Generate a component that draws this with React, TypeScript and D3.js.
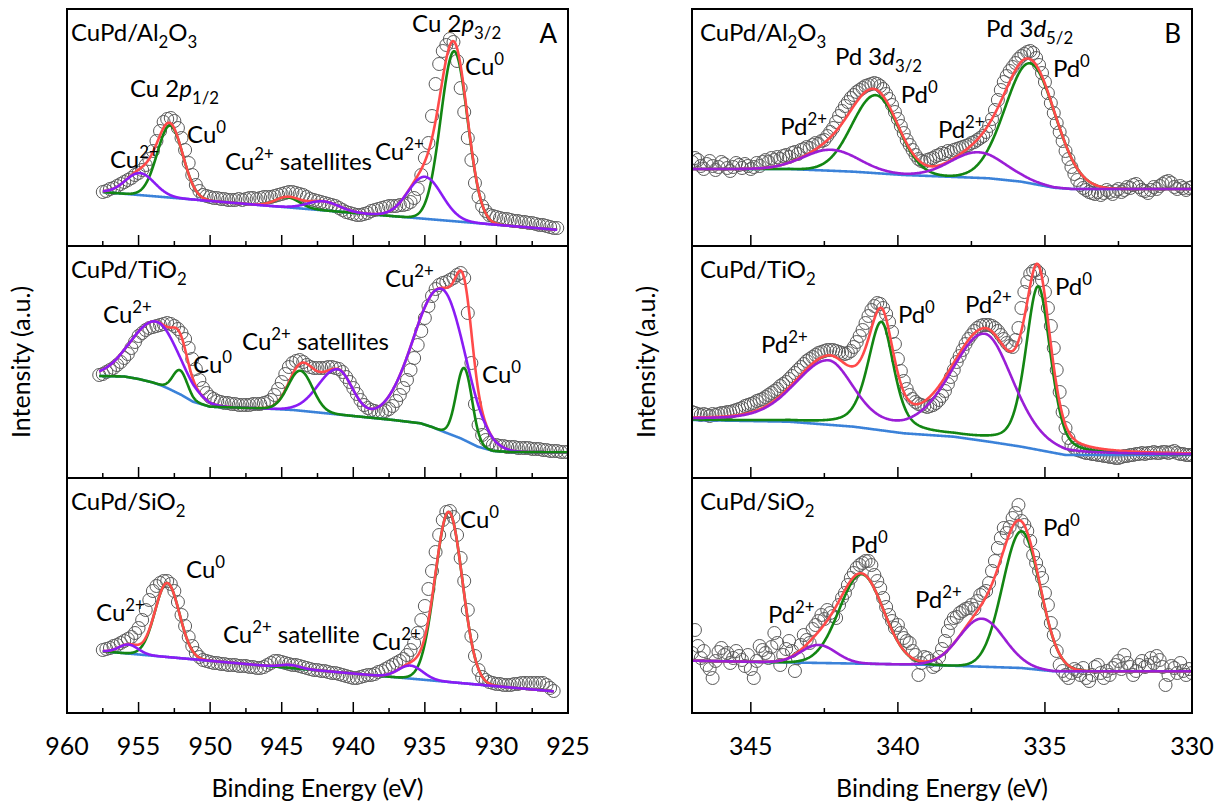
import React, { useEffect, useRef } from 'react';
import * as d3 from 'd3';

const W = 1216;
const H = 803;
const FONT = "Lato, 'Open Sans', sans-serif";

// ---- Cu 2p spectra (left panel), 0.25 eV steps, arbitrary intensity ----
const cuStep = 0.25;
const cuAl2O3Start = 957.5;
const cuAl2O3 = [
  54, 55, 57, 58, 60, 62, 64, 66,
  68, 71, 73, 76, 81, 87, 95, 105,
  115, 124, 127, 128, 125, 118, 108, 96,
  83, 71, 61, 55, 51, 50, 49, 48,
  48, 47, 47, 46, 46, 46, 47, 46,
  47, 48, 48, 47, 48, 49, 49, 49,
  50, 51, 52, 53, 54, 54, 53, 52,
  51, 49, 47, 46, 45, 44, 43, 42,
  41, 40, 38, 36, 34, 33, 32, 31,
  31, 32, 33, 35, 36, 37, 38, 39,
  40, 40, 40, 41, 41, 42, 44, 48,
  57, 71, 88, 103, 130, 162, 182, 195,
  201, 207, 204, 185, 158, 134, 108, 86,
  63, 49, 40, 35, 31, 30, 29, 28,
  27, 27, 26, 25, 25, 24, 24, 23,
  23, 22, 21, 21, 20, 19, 18, 18,
];
const cuTiO2Start = 957.75;
const cuTiO2 = [
  103, 104, 106, 108, 110, 113, 116, 120,
  124, 130, 136, 142, 145, 148, 150, 151,
  152, 153, 154, 155, 154, 152, 149, 145,
  139, 130, 119, 109, 98, 90, 85, 81,
  79, 77, 76, 75, 75, 74, 74, 73,
  73, 73, 73, 74, 74, 74, 75, 76,
  78, 83, 89, 96, 104, 111, 115, 117,
  118, 116, 113, 111, 110, 110, 110, 110,
  111, 111, 110, 109, 106, 101, 96, 90,
  84, 78, 73, 70, 68, 67, 66, 66,
  67, 69, 72, 77, 83, 90, 98, 108,
  120, 133, 147, 160, 172, 182, 189, 193,
  195, 196, 198, 200, 203, 205, 200, 165,
  115, 74, 53, 43, 38, 35, 33, 33,
  32, 32, 31, 31, 31, 30, 30, 30,
  30, 29, 29, 29, 28, 28, 27, 27,
  27, 26, 26, 26,
];
const cuSiO2Start = 957.5;
const cuSiO2 = [
  63, 64, 65, 67, 68, 70, 72, 74,
  76, 80, 85, 93, 103, 113, 122, 127,
  130, 132, 132, 129, 122, 111, 98, 87,
  76, 67, 60, 56, 53, 52, 51, 50,
  50, 49, 49, 48, 48, 48, 47, 47,
  47, 46, 46, 45, 45, 46, 48, 50,
  52, 52, 51, 50, 49, 48, 48, 47,
  46, 45, 44, 43, 43, 42, 42, 41,
  40, 40, 39, 38, 37, 36, 35, 35,
  36, 37, 38, 38, 39, 41, 42, 44,
  46, 48, 50, 52, 54, 58, 63, 70,
  80, 93, 107, 124, 142, 161, 178, 193,
  201, 202, 196, 178, 155, 132, 103, 77,
  57, 43, 36, 33, 31, 30, 29, 29,
  28, 28, 28, 29, 29, 30, 30, 30,
  30, 30, 30, 30, 28, 25, 22,
];

// ---- Pd 3d spectra (right panel), 0.1 eV steps from 347 eV ----
const pdStep = 0.1;
const pdStart = 347.0;
const pdAl2O3 = [
  84, 88, 86, 80, 77, 82, 85, 80, 76, 79,
  84, 82, 78, 75, 79, 83, 81, 78, 82, 80,
  77, 79, 83, 80, 84, 86, 84, 88, 86, 89,
  87, 90, 91, 89, 93, 94, 92, 96, 97, 99,
  98, 101, 103, 102, 105, 106, 110, 114, 118, 124,
  130, 135, 140, 144, 148, 151, 154, 156, 158, 160,
  161, 162, 163, 162, 160, 157, 152, 147, 141, 134,
  127, 120, 113, 106, 101, 96, 91, 87, 85, 84,
  86, 87, 88, 90, 91, 93, 92, 95, 94, 96,
  97, 98, 99, 100, 101, 103, 104, 106, 108, 110,
  114, 120, 127, 136, 146, 156, 164, 170, 175, 179,
  183, 187, 190, 192, 194, 195, 193, 188, 181, 173,
  164, 153, 143, 133, 123, 114, 105, 95, 87, 79,
  72, 66, 61, 58, 56, 54, 53, 52, 54, 51,
  53, 56, 54, 52, 55, 57, 54, 56, 59, 58,
  61, 62, 59, 56, 55, 53, 56, 59, 57, 60,
  62, 64, 65, 63, 59, 57, 60, 58, 56, 58,
  59,
];
const pdTiO2 = [
  66, 65, 64, 63, 64, 63, 62, 64, 63, 64,
  65, 65, 66, 66, 67, 68, 69, 70, 72, 73,
  74, 75, 77, 78, 79, 81, 83, 85, 87, 89,
  92, 94, 96, 99, 102, 105, 108, 111, 114, 117,
  119, 121, 123, 125, 126, 127, 128, 128, 128, 127,
  126, 125, 124, 125, 127, 131, 136, 142, 148, 155,
  162, 168, 172, 175, 174, 170, 164, 156, 146, 134,
  119, 107, 97, 89, 83, 79, 76, 74, 73, 72,
  71, 72, 73, 75, 78, 82, 87, 94, 101, 108,
  116, 122, 128, 134, 139, 143, 147, 150, 152, 153,
  153, 153, 152, 150, 147, 143, 139, 135, 132, 131,
  138, 150, 170, 186, 196, 204, 207, 208, 205, 198,
  186, 170, 152, 130, 108, 86, 66, 50, 40, 33,
  30, 28, 27, 26, 25, 25, 24, 24, 23, 23,
  22, 22, 21, 21, 20, 20, 21, 22, 22, 23,
  23, 24, 24, 25, 24, 25, 25, 26, 25, 25,
  26, 26, 25, 26, 27, 25, 24, 24, 23, 23,
  23,
];
const pdSiO2 = [
  60, 83, 67, 55, 62, 48, 44, 35, 52, 61,
  65, 58, 60, 50, 55, 62, 57, 53, 47, 58,
  44, 35, 52, 67, 63, 60, 55, 66, 80, 70,
  48, 58, 64, 72, 62, 42, 55, 68, 78, 73,
  70, 84, 88, 92, 98, 94, 103, 100, 97, 95,
  108, 115, 120, 128, 135, 140, 145, 148, 150, 152,
  152, 148, 138, 132, 125, 115, 106, 98, 92, 85,
  88, 80, 75, 72, 70, 62, 58, 38, 50, 56,
  55, 52, 46, 48, 56, 64, 72, 82, 90, 95,
  96, 100, 102, 104, 105, 108, 104, 112, 118, 120,
  122, 130, 142, 152, 165, 175, 185, 180, 186, 195,
  200, 208, 192, 188, 182, 172, 158, 150, 142, 135,
  120, 108, 90, 78, 62, 48, 42, 38, 35, 40,
  44, 42, 38, 45, 35, 32, 38, 46, 48, 40,
  35, 42, 38, 45, 48, 52, 44, 58, 50, 46,
  38, 42, 48, 52, 46, 48, 55, 50, 57, 53,
  46, 28, 38, 47, 45, 40, 50, 42, 38, 44,
  40,
];

// ---- backgrounds [eV, intensity] ----
const cuAl2O3Bg = [[957.5, 54], [925.6, 16]];
const cuTiO2Bg = [
  [957.75, 102], [956, 101.5], [955, 99], [954, 95.5], [953.5, 93], [953, 90],
  [952, 83], [951.2, 76.3], [950, 71.3], [946.5, 69.7], [944.2, 68], [939.5, 61.3],
  [937.2, 58], [935.3, 54.7], [934.5, 51], [933.7, 46.3], [932.5, 39.7],
  [931.3, 31.3], [930.2, 27], [929, 26], [925, 25.7],
];
const cuSiO2Bg = [[957.5, 61.7], [926, 21.7]];
const pdAl2O3Bg = [
  [347, 77], [343.7, 77], [341.5, 74.3], [339.8, 71], [336.9, 67.7],
  [335.8, 64.3], [334.7, 58.3], [334.1, 57], [330, 57],
];
const pdTiO2Bg = [
  [347, 58], [343.7, 56.3], [341.5, 51.3], [339.8, 44.7], [338.1, 41.3],
  [336.9, 36.3], [335.8, 31.3], [334.9, 26.3], [334.3, 23], [330, 23],
];
const pdSiO2Bg = [
  [347, 52.3], [342.6, 50], [339.2, 48.3], [335.8, 45], [334.7, 41.7], [330, 41.7],
];

// ---- fitted peaks: centre, height, half widths (high / low BE side), lorentz mix, group ----
// group 'm' = metallic (Cu0 / Pd0), 'o' = oxidised (Cu2+ / Pd2+)
const cuAl2O3Peaks = [
  { c: 932.95, h: 170, wl: 1.1, wr: 1.1, m: 0, g: 'm' },
  { c: 935.0, h: 42, wl: 1.4, wr: 1.4, m: 0, g: 'o' },
  { c: 952.8, h: 72, wl: 1.05, wr: 1.05, m: 0, g: 'm' },
  { c: 954.9, h: 22, wl: 1.2, wr: 1.2, m: 0, g: 'o' },
  { c: 944.6, h: 10, wl: 1.0, wr: 1.0, m: 0, g: 'm' },
  { c: 942.1, h: 9, wl: 1.3, wr: 1.3, m: 0, g: 'o' },
];
const cuTiO2Peaks = [
  { c: 932.25, h: 72, wl: 0.65, wr: 0.65, m: 0, g: 'm' },
  { c: 933.8, h: 142, wl: 2.3, wr: 1.9, m: 0, g: 'o' },
  { c: 952.1, h: 24, wl: 0.6, wr: 0.6, m: 0, g: 'm' },
  { c: 953.7, h: 62, wl: 2.1, wr: 1.85, m: 0, g: 'o' },
  { c: 943.7, h: 40, wl: 1.0, wr: 1.0, m: 0, g: 'm' },
  { c: 941.1, h: 45, wl: 1.6, wr: 1.2, m: 0, g: 'o' },
];
const cuSiO2Peaks = [
  { c: 933.33, h: 170, wl: 1.12, wr: 1.12, m: 0, g: 'm' },
  { c: 936.0, h: 13, wl: 1.0, wr: 1.0, m: 0, g: 'o' },
  { c: 953.0, h: 74, wl: 1.0, wr: 1.0, m: 0, g: 'm' },
  { c: 955.7, h: 9, wl: 0.8, wr: 0.8, m: 0, g: 'o' },
  { c: 944.4, h: 3, wl: 0.8, wr: 0.8, m: 0, g: 'o' },
];
const pdAl2O3Peaks = [
  { c: 340.75, h: 78, wl: 0.95, wr: 0.9, m: 0, g: 'm' },
  { c: 335.5, h: 120, wl: 1.0, wr: 1.0, m: 0, g: 'm' },
  { c: 342.26, h: 21, wl: 1.1, wr: 1.1, m: 0, g: 'o' },
  { c: 337.27, h: 25.6, wl: 1.1, wr: 1.1, m: 0, g: 'o' },
];
const pdTiO2Peaks = [
  { c: 340.56, h: 108, wl: 0.55, wr: 0.5, m: 0.5, g: 'm' },
  { c: 335.23, h: 163, wl: 0.5, wr: 0.5, m: 0.4, g: 'm' },
  { c: 342.37, h: 62.5, wl: 1.33, wr: 1.0, m: 0.3, g: 'o' },
  { c: 337.04, h: 106.7, wl: 1.36, wr: 1.13, m: 0.3, g: 'o' },
];
const pdSiO2Peaks = [
  { c: 341.24, h: 89.5, wl: 0.88, wr: 0.88, m: 0, g: 'm' },
  { c: 335.8, h: 136.7, wl: 0.75, wr: 0.75, m: 0, g: 'm' },
  { c: 342.7, h: 18, wl: 0.7, wr: 0.7, m: 0, g: 'o' },
  { c: 337.15, h: 48, wl: 0.9, wr: 0.9, m: 0, g: 'o' },
];

// ---- axis ticks ----
const cuMajor = [960, 955, 950, 945, 940, 935, 930, 925];
const cuMinor = [957.5, 952.5, 947.5, 942.5, 937.5, 932.5, 927.5];
const pdMajor = [345, 340, 335, 330];
const pdMinor = [342.5, 337.5, 332.5];

// ---- text ----
const sampleNames = [
  [['CuPd/Al'], ['2', 'sub'], ['O'], ['3', 'sub']],
  [['CuPd/TiO'], ['2', 'sub']],
  [['CuPd/SiO'], ['2', 'sub']],
];
const cu0 = [['Cu'], ['0', 'sup']];
const cu2 = [['Cu'], ['2+', 'sup']];
const pd0 = [['Pd'], ['0', 'sup']];
const pd2 = [['Pd'], ['2+', 'sup']];
// row, energy, intensity of label anchor
const cuLabels = [
  { row: 0, e: 935.89, i: 214, t: [['Cu 2'], ['p', 'i'], ['3/2', 'sub']] },
  { row: 0, e: 932.19, i: 171, t: cu0 },
  { row: 0, e: 955.6, i: 149, t: [['Cu 2'], ['p', 'i'], ['1/2', 'sub']] },
  { row: 0, e: 951.61, i: 103, t: cu0 },
  { row: 0, e: 957.0, i: 78, t: cu2 },
  { row: 0, e: 948.96, i: 76, t: [['Cu'], ['2+', 'sup'], [' satellites']] },
  { row: 0, e: 938.48, i: 86, t: cu2 },
  { row: 1, e: 957.48, i: 155, t: cu2 },
  { row: 1, e: 951.19, i: 105, t: cu0 },
  { row: 1, e: 947.77, i: 128, t: [['Cu'], ['2+', 'sup'], [' satellites']] },
  { row: 1, e: 937.78, i: 191, t: cu2 },
  { row: 1, e: 931.0, i: 95, t: cu0 },
  { row: 2, e: 932.54, i: 185, t: cu0 },
  { row: 2, e: 951.68, i: 135, t: cu0 },
  { row: 2, e: 957.97, i: 92, t: cu2 },
  { row: 2, e: 949.1, i: 70, t: [['Cu'], ['2+', 'sup'], [' satellite']] },
  { row: 2, e: 938.69, i: 63, t: cu2 },
];
const pdLabels = [
  { row: 0, e: 342.14, i: 181, t: [['Pd 3'], ['d', 'i'], ['3/2', 'sub']] },
  { row: 0, e: 337.0, i: 209, t: [['Pd 3'], ['d', 'i'], ['5/2', 'sub']] },
  { row: 0, e: 339.9, i: 143, t: pd0 },
  { row: 0, e: 334.73, i: 169, t: pd0 },
  { row: 0, e: 344.0, i: 111, t: pd2 },
  { row: 0, e: 338.64, i: 108, t: pd2 },
  { row: 1, e: 344.65, i: 125, t: pd2 },
  { row: 1, e: 340.0, i: 155, t: pd0 },
  { row: 1, e: 337.72, i: 165, t: pd2 },
  { row: 1, e: 334.66, i: 183, t: pd0 },
  { row: 2, e: 341.6, i: 160, t: pd0 },
  { row: 2, e: 335.07, i: 177, t: pd0 },
  { row: 2, e: 344.42, i: 90, t: pd2 },
  { row: 2, e: 339.42, i: 105, t: pd2 },
];

const COLORS = {
  bg: '#3b82d9',
  m: '#138613',
  oCu: '#8a1cf4',
  oPd: '#9a1ed6',
  fit: '#ff4a4a',
};

const rows = [[9, 246], [246, 478], [478, 713]];

const peakValue = (p, e) => {
  const d = e - p.c;
  const w = d > 0 ? p.wl : p.wr;
  const x = (d / w) * (d / w);
  return p.h * ((1 - p.m) * Math.exp(-Math.LN2 * x) + p.m / (1 + x));
};

const richText = (g, x, y, segs, size, anchor = 'start') => {
  const t = g.append('text')
    .attr('x', x).attr('y', y)
    .attr('font-size', size)
    .attr('text-anchor', anchor)
    .attr('fill', '#000');
  let shift = 0;
  segs.forEach(([s, k]) => {
    const target = k === 'sup' ? -size * 0.42 : k === 'sub' ? size * 0.28 : 0;
    const ts = t.append('tspan').attr('dy', target - shift).text(s);
    if (k === 'sup' || k === 'sub') ts.attr('font-size', size * 0.7);
    if (k === 'i') ts.attr('font-style', 'italic');
    shift = target;
  });
  return t;
};

const App = () => {
  const ref = useRef(null);

  useEffect(() => {
    document.body.style.margin = '0';
    const svg = d3.select(ref.current);
    svg.selectAll('*').remove();
    svg.style('font-family', FONT);

    const cols = [
      {
        key: 'A', x0: 67, x1: 568, domain: [960, 925], major: cuMajor, minor: cuMinor,
        oColor: COLORS.oCu, labels: cuLabels, nameX: 71,
        subs: [
          { y: cuAl2O3, start: cuAl2O3Start, step: cuStep, bg: cuAl2O3Bg, peaks: cuAl2O3Peaks, order: ['bg', 'm', 'fit', 'o'] },
          { y: cuTiO2, start: cuTiO2Start, step: cuStep, bg: cuTiO2Bg, peaks: cuTiO2Peaks, order: ['bg', 'fit', 'o', 'm'] },
          { y: cuSiO2, start: cuSiO2Start, step: cuStep, bg: cuSiO2Bg, peaks: cuSiO2Peaks, order: ['bg', 'm', 'fit', 'o'] },
        ],
      },
      {
        key: 'B', x0: 692, x1: 1192, domain: [347, 330], major: pdMajor, minor: pdMinor,
        oColor: COLORS.oPd, labels: pdLabels, nameX: 700,
        subs: [
          { y: pdAl2O3, start: pdStart, step: pdStep, bg: pdAl2O3Bg, peaks: pdAl2O3Peaks, order: ['bg', 'm', 'fit', 'o'] },
          { y: pdTiO2, start: pdStart, step: pdStep, bg: pdTiO2Bg, peaks: pdTiO2Peaks, order: ['bg', 'm', 'fit', 'o'] },
          { y: pdSiO2, start: pdStart, step: pdStep, bg: pdSiO2Bg, peaks: pdSiO2Peaks, order: ['bg', 'm', 'fit', 'o'] },
        ],
      },
    ];

    const defs = svg.append('defs');

    cols.forEach((col) => {
      const x = d3.scaleLinear().domain(col.domain).range([col.x0, col.x1]);

      col.subs.forEach((sub, r) => {
        const [top, bottom] = rows[r];
        const y = d3.scaleLinear().domain([0, bottom - top]).range([bottom, top]);
        const clipId = `clip-${col.key}-${r}`;
        defs.append('clipPath').attr('id', clipId)
          .append('rect').attr('x', col.x0).attr('y', top)
          .attr('width', col.x1 - col.x0).attr('height', bottom - top);

        const g = svg.append('g');
        const plot = g.append('g').attr('clip-path', `url(#${clipId})`);

        const pts = sub.y.map((v, i) => [sub.start - i * sub.step, v]);

        // measured points
        plot.append('g').selectAll('circle').data(pts).enter().append('circle')
          .attr('cx', (d) => x(d[0]))
          .attr('cy', (d) => y(d[1]))
          .attr('r', 6.5)
          .attr('fill', 'none')
          .attr('stroke', '#5a5a5a')
          .attr('stroke-width', 1);

        // fit curves
        const bgScale = d3.scaleLinear()
          .domain(sub.bg.map((d) => d[0]))
          .range(sub.bg.map((d) => d[1]))
          .clamp(true);
        const eHi = sub.start;
        const eLo = sub.start - (sub.y.length - 1) * sub.step;
        const grid = d3.range(eHi, eLo - 1e-6, -0.02);
        const sumGroup = (e, grp) => sub.peaks
          .filter((p) => grp === 'all' || p.g === grp)
          .reduce((s, p) => s + peakValue(p, e), 0);
        const series = {
          bg: grid.map((e) => [e, bgScale(e)]),
          m: grid.map((e) => [e, bgScale(e) + sumGroup(e, 'm')]),
          o: grid.map((e) => [e, bgScale(e) + sumGroup(e, 'o')]),
          fit: grid.map((e) => [e, bgScale(e) + sumGroup(e, 'all')]),
        };
        const colorOf = { bg: COLORS.bg, m: COLORS.m, o: col.oColor, fit: COLORS.fit };
        const line = d3.line().x((d) => x(d[0])).y((d) => y(d[1]));
        sub.order.forEach((k) => {
          plot.append('path')
            .attr('d', line(series[k]))
            .attr('fill', 'none')
            .attr('stroke', colorOf[k])
            .attr('stroke-width', 2.6)
            .attr('stroke-linejoin', 'round');
        });

        // frame
        g.append('rect')
          .attr('x', col.x0).attr('y', top)
          .attr('width', col.x1 - col.x0).attr('height', bottom - top)
          .attr('fill', 'none').attr('stroke', '#000').attr('stroke-width', 2);

        // ticks (inside, bottom)
        col.major.forEach((t) => {
          g.append('line').attr('x1', x(t)).attr('x2', x(t))
            .attr('y1', bottom).attr('y2', bottom - 11)
            .attr('stroke', '#000').attr('stroke-width', 1.5);
        });
        col.minor.forEach((t) => {
          g.append('line').attr('x1', x(t)).attr('x2', x(t))
            .attr('y1', bottom).attr('y2', bottom - 5)
            .attr('stroke', '#000').attr('stroke-width', 1.5);
        });

        // sample name
        richText(g, col.nameX, top + 32, sampleNames[r], 24);

        // annotations
        col.labels.filter((l) => l.row === r).forEach((l) => {
          richText(g, x(l.e), y(l.i), l.t, 24);
        });

        if (r === 0) {
          g.append('text').attr('x', col.x1 - 11).attr('y', top + 34)
            .attr('text-anchor', 'end').attr('font-size', 26).text(col.key);
        }
        if (r === 2) {
          col.major.forEach((t) => {
            g.append('text').attr('x', x(t)).attr('y', bottom + 42)
              .attr('text-anchor', 'middle').attr('font-size', 25).text(t);
          });
        }
      });

      const cx = (col.x0 + col.x1) / 2;
      svg.append('text').attr('x', cx).attr('y', 797)
        .attr('text-anchor', 'middle').attr('font-size', 25)
        .text('Binding Energy (eV)');
      svg.append('text')
        .attr('transform', `translate(${col.x0 - 37},362) rotate(-90)`)
        .attr('text-anchor', 'middle').attr('font-size', 25)
        .text('Intensity (a.u.)');
    });
  }, []);

  return <svg ref={ref} width={W} height={H} style={{ display: 'block', background: '#fff' }} />;
};

export default App;
